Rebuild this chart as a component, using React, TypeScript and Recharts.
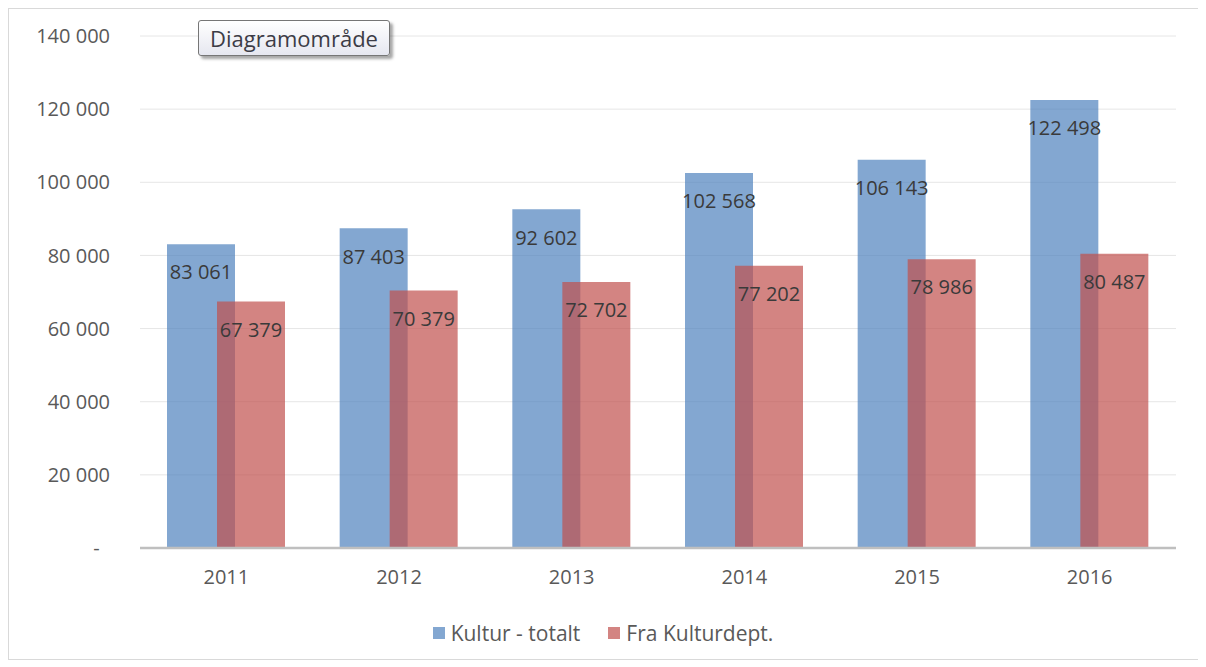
import React from 'react';
import { BarChart, Bar, XAxis, YAxis, CartesianGrid, Legend, LabelList } from 'recharts';

const years = ['2011', '2012', '2013', '2014', '2015', '2016'];
const kulturTotalt = [83061, 87403, 92602, 102568, 106143, 122498];
const fraKulturdept = [67379, 70379, 72702, 77202, 78986, 80487];
const yTicks = [0, 20000, 40000, 60000, 80000, 100000, 120000, 140000];
const seriesNames = ['Kultur - totalt', 'Fra Kulturdept.'];

const data = years.map((year, i) => ({
  year,
  totalt: kulturTotalt[i],
  dept: fraKulturdept[i],
}));

// mellomrom som tusenskille, som i Excel
const fmt = (v: number) => String(v).replace(/\B(?=(\d{3})+(?!\d))/g, ' ');
const fmtTick = (v: number) => (v === 0 ? '-\u00A0\u00A0' : fmt(v));

const BLUE = '#4F81BD';
const RED = '#C0504D';

const LegendContent = () => (
  <div style={{ display: 'flex', justifyContent: 'center', alignItems: 'center', fontSize: 21, color: '#595959' }}>
    {seriesNames.map((name, i) => (
      <div key={name} style={{ display: 'flex', alignItems: 'center', marginRight: i === 0 ? 28 : 0 }}>
        <span
          style={{
            width: 12,
            height: 12,
            background: i === 0 ? BLUE : RED,
            opacity: 0.7,
            marginRight: 6,
            display: 'inline-block',
          }}
        />
        <span>{name}</span>
      </div>
    ))}
  </div>
);

const App: React.FC = () => {
  return (
    <div
      style={{
        position: 'relative',
        width: 1194,
        height: 650,
        border: '1px solid #d9d9d9',
        fontFamily: '"Open Sans", sans-serif',
        background: '#fff',
      }}
    >
      <BarChart
        width={1194}
        height={650}
        data={data}
        margin={{ top: 27, right: 27, left: 21, bottom: 61 }}
        barSize={68}
        barGap={-18}
        style={{ fontFamily: '"Open Sans", sans-serif' }}
      >
        <CartesianGrid vertical={false} stroke="#e6e6e6" />
        <XAxis
          dataKey="year"
          axisLine={{ stroke: '#bfbfbf', strokeWidth: 2.5 }}
          tickLine={false}
          tickMargin={16}
          height={50}
          tick={{ fill: '#595959', fontSize: 20 }}
        />
        <YAxis
          domain={[0, 140000]}
          ticks={yTicks}
          width={110}
          axisLine={false}
          tickLine={false}
          tickMargin={24}
          tickFormatter={fmtTick}
          tick={{ fill: '#595959', fontSize: 20 }}
        />
        <Legend
          layout="horizontal"
          verticalAlign="middle"
          align="center"
          content={<LegendContent />}
          wrapperStyle={{ top: 610 }}
        />
        <Bar dataKey="totalt" name={seriesNames[0]} fill={BLUE} fillOpacity={0.7} isAnimationActive={false}>
          <LabelList
            dataKey="totalt"
            position="insideTop"
            offset={21}
            fill="#3a3a3a"
            fontSize={20}
            formatter={(v: any) => fmt(Number(v))}
          />
        </Bar>
        <Bar dataKey="dept" name={seriesNames[1]} fill={RED} fillOpacity={0.7} isAnimationActive={false}>
          <LabelList
            dataKey="dept"
            position="insideTop"
            offset={21}
            fill="#3a3a3a"
            fontSize={20}
            formatter={(v: any) => fmt(Number(v))}
          />
        </Bar>
      </BarChart>
      <div
        style={{
          position: 'absolute',
          left: 189,
          top: 11,
          width: 192,
          height: 36,
          border: '1px solid #767676',
          borderRadius: 3,
          background: 'linear-gradient(#ffffff, #e6e7f0)',
          boxShadow: '3px 3px 3px rgba(0,0,0,0.35)',
          fontSize: 22,
          color: '#3c3c46',
          display: 'flex',
          alignItems: 'center',
          justifyContent: 'center',
          boxSizing: 'border-box',
        }}
      >
        Diagramområde
      </div>
    </div>
  );
};

export default App;
